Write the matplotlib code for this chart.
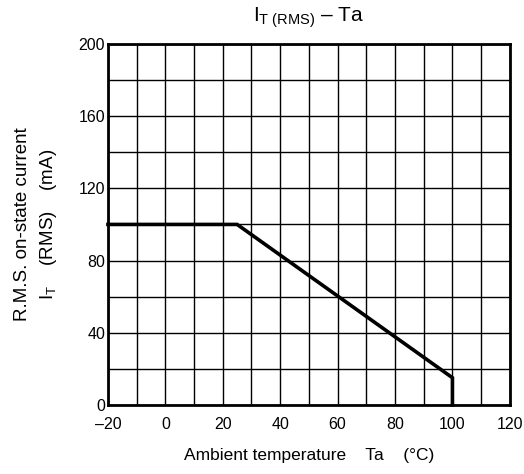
import matplotlib
matplotlib.use("Agg")
import matplotlib.pyplot as plt

plt.rcParams['font.family'] = ['Liberation Sans', 'DejaVu Sans']
plt.rcParams['mathtext.fontset'] = 'custom'
plt.rcParams['mathtext.rm'] = 'Liberation Sans'
plt.rcParams['mathtext.it'] = 'Liberation Sans'

temp = [-20, 25, 100, 100]
current = [100, 100, 15, 0]
x_ticks = [-20, 0, 20, 40, 60, 80, 100, 120]
y_ticks = [0, 40, 80, 120, 160, 200]

fig = plt.figure(figsize=(5.24, 4.74), dpi=100)
ax = fig.add_axes([0.206, 0.146, 0.767, 0.761])
ax.set_xlim(-20, 120)
ax.set_ylim(0, 200)
ax.set_xticks(range(-20, 121, 10), minor=True)
ax.set_yticks(range(0, 201, 20), minor=True)
ax.set_xticks(x_ticks)
ax.set_yticks(y_ticks)
ax.set_xticklabels(['\u201320' if v < 0 else str(v) for v in x_ticks])
ax.grid(True, which='both', color='black', linewidth=1.0)
ax.tick_params(which='both', length=0, labelsize=11.5)
ax.tick_params(axis='x', pad=9)
ax.tick_params(axis='y', pad=2)
for s in ax.spines.values():
    s.set_linewidth(2.0)
ax.plot(temp, current, color='black', linewidth=2.6, solid_joinstyle='miter', clip_on=False, zorder=3)

ax.set_title(r'I$_{\mathrm{T\ (RMS)}}$ – Ta', fontsize=15, pad=16)
ax.set_xlabel('Ambient temperature    Ta    (°C)', fontsize=12.5, labelpad=11)
ax.set_ylabel('R.M.S. on-state current\n' + r'I$_{\mathrm{T}}$    (RMS)    (mA)', fontsize=13.5, labelpad=14, linespacing=1.5)

fig.savefig('out.png', dpi=100)
